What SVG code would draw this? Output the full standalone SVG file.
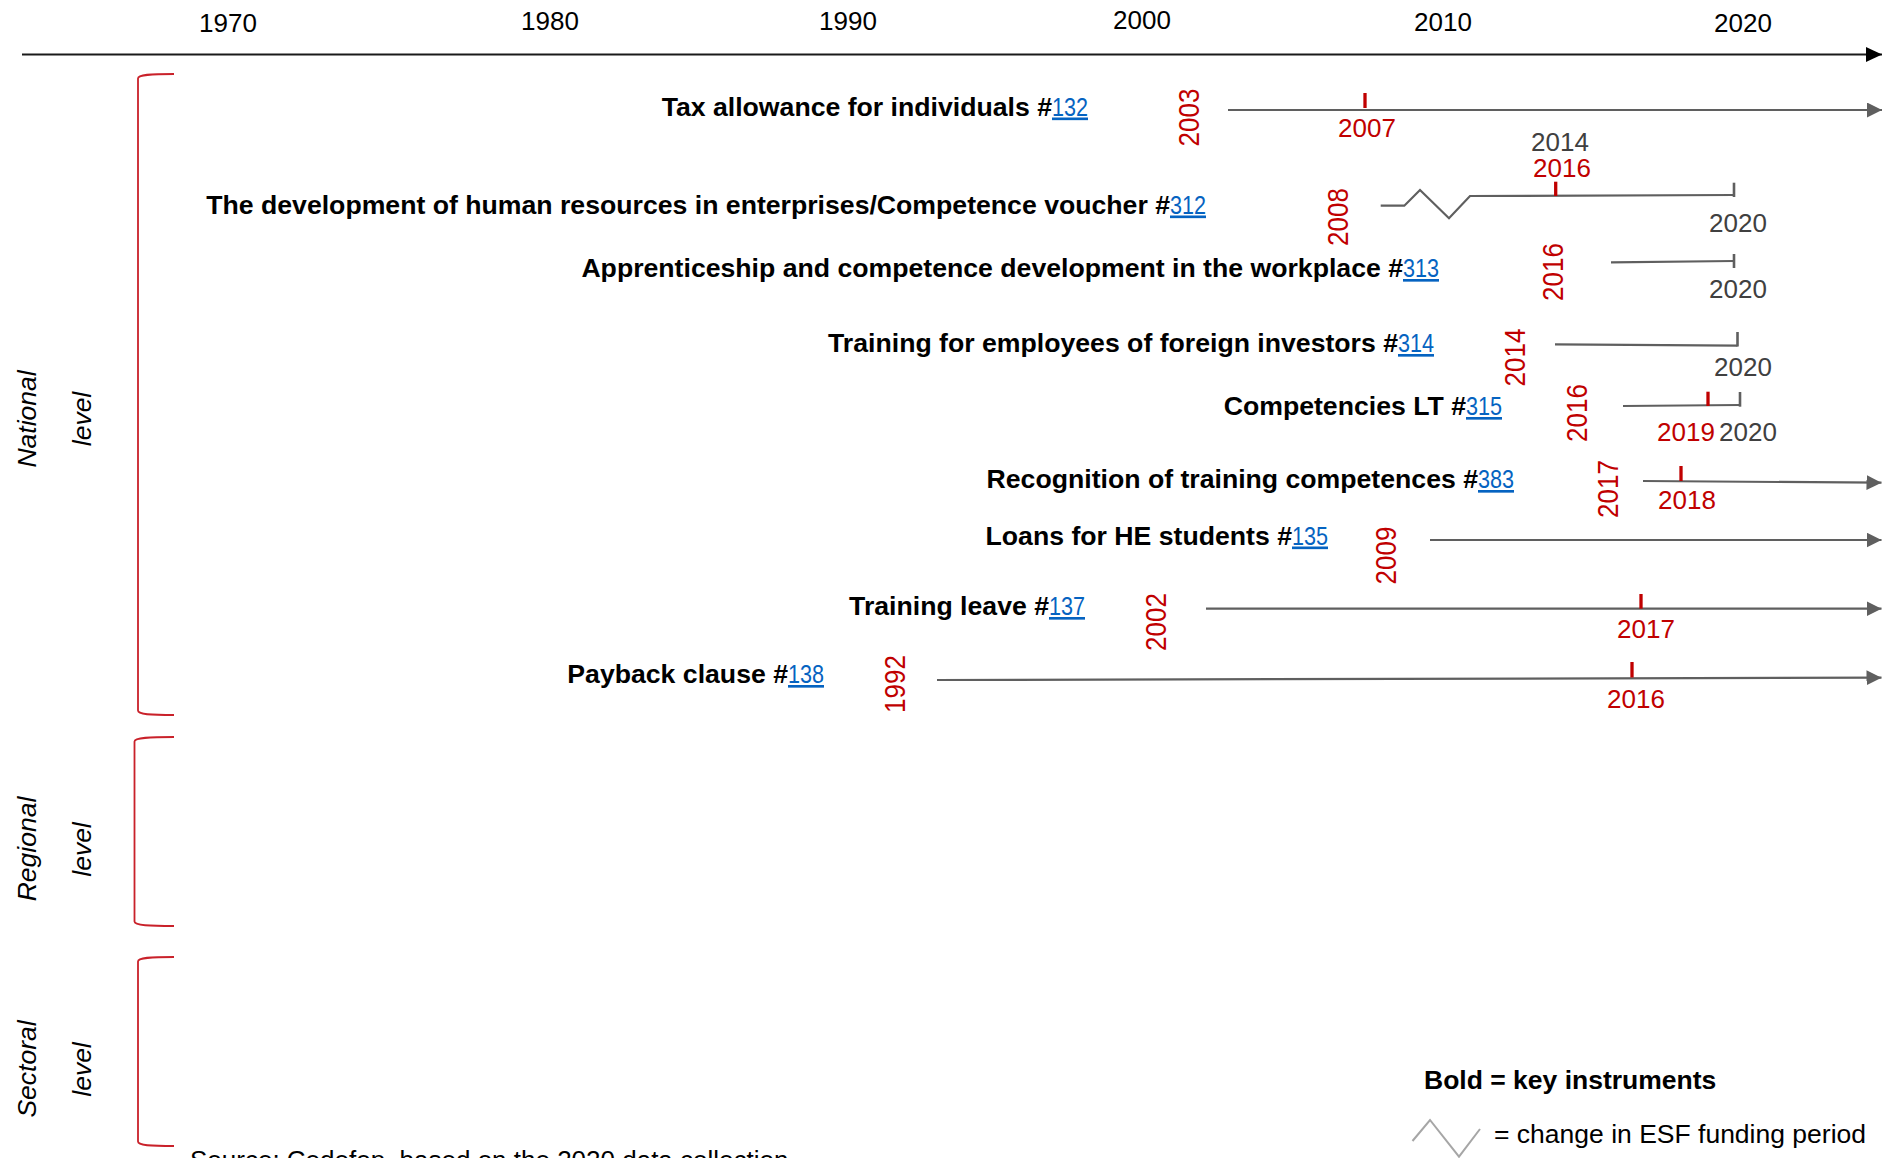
<svg xmlns="http://www.w3.org/2000/svg" width="1901" height="1158" viewBox="0 0 1901 1158">
<style>
text{font-family:"Liberation Sans",Arial,sans-serif}
.yr{font-size:26px;text-anchor:middle;fill:#000}
.red{font-size:26px;text-anchor:middle;fill:#c00000}
.gry{font-size:26px;text-anchor:middle;fill:#404040}
.lbl{font-size:26.65px;font-weight:bold;text-anchor:end;fill:#000}
.lnk{font-size:26.5px;fill:#0563c1;text-decoration:underline;font-family:"Liberation Sans Narrow","Liberation Sans",Arial,sans-serif}
.lvl{font-size:26.5px;font-style:italic;text-anchor:middle;fill:#000}
.tl{fill:none;stroke:#5f5f5f;stroke-width:2.2}
.tlarrow{fill:none;stroke:#5f5f5f;stroke-width:2.2;marker-end:url(#ga)}
.rt{stroke:#c00000;stroke-width:3.3}
.gt{stroke:#5f5f5f;stroke-width:2.6}
.br{fill:none;stroke:#c9212a;stroke-width:1.8}
</style>
<defs>
<marker id="ga" markerUnits="userSpaceOnUse" markerWidth="16" markerHeight="16" refX="15" refY="7.5" orient="auto">
<path d="M0,0 L15,7.5 L0,15 Z" fill="#5f5f5f"/>
</marker>
<marker id="ba" markerUnits="userSpaceOnUse" markerWidth="17" markerHeight="16" refX="16" refY="7.5" orient="auto">
<path d="M0,0 L16,7.5 L0,15 Z" fill="#000"/>
</marker>
</defs>
<rect width="1901" height="1158" fill="#fff"/>

<g id="time-axis">
<line x1="22" y1="54.5" x2="1882" y2="54.5" stroke="#1a1a1a" stroke-width="2.2" marker-end="url(#ba)"/>
<text class="yr" x="228" y="31.5">1970</text>
<text class="yr" x="550" y="30">1980</text>
<text class="yr" x="848" y="30">1990</text>
<text class="yr" x="1142" y="29">2000</text>
<text class="yr" x="1443" y="31">2010</text>
<text class="yr" x="1743" y="31.5">2020</text>
</g>

<g id="level-national">
<path class="br" d="M174,74 C150,74 138,74.5 138,78.5 L138,710.5 C138,714.5 150,715 174,715"/>
<text class="lvl" transform="translate(35.5,419) rotate(-90)">National</text>
<text class="lvl" transform="translate(90.5,419) rotate(-90)">level</text>
</g>
<g id="level-regional">
<path class="br" d="M174,737 C150,737 134.5,737.5 134.5,741.5 L134.5,921.5 C134.5,925.5 150,926 174,926"/>
<text class="lvl" transform="translate(35.5,849) rotate(-90)">Regional</text>
<text class="lvl" transform="translate(90.5,849.5) rotate(-90)">level</text>
</g>
<g id="level-sectoral">
<path class="br" d="M174,957 C150,957 138,957.5 138,961.5 L138,1141.5 C138,1145.5 150,1146 174,1146"/>
<text class="lvl" transform="translate(35.5,1069) rotate(-90)">Sectoral</text>
<text class="lvl" transform="translate(90.5,1069.5) rotate(-90)">level</text>
</g>

<g id="connectors">
<path class="tlarrow" d="M1228,110 L1882,110"/>
<line class="rt" x1="1365" y1="93" x2="1365" y2="108"/>

<polyline class="tl" points="1380.7,205.7 1404.3,205.7 1420,190 1449,218.3 1470,196 1734,195"/>
<line class="gt" x1="1734" y1="182.7" x2="1734" y2="197"/>
<line class="rt" x1="1555.7" y1="181.7" x2="1555.7" y2="196"/>

<line class="tl" x1="1611" y1="262.3" x2="1734" y2="261"/>
<line class="gt" x1="1734" y1="254" x2="1734" y2="268"/>

<line class="tl" x1="1555" y1="344.3" x2="1737.5" y2="345.7"/>
<line class="gt" x1="1737.5" y1="332" x2="1737.5" y2="346.5"/>

<line class="tl" x1="1623" y1="406" x2="1740" y2="405"/>
<line class="gt" x1="1740" y1="392" x2="1740" y2="406.7"/>
<line class="rt" x1="1708" y1="391.7" x2="1708" y2="406"/>

<path class="tlarrow" d="M1643,481 L1881.5,482.7"/>
<line class="rt" x1="1681" y1="466" x2="1681" y2="481"/>

<path class="tlarrow" d="M1430,540 L1881.5,540"/>

<path class="tlarrow" d="M1206,608.7 L1881.5,608.7"/>
<line class="rt" x1="1641" y1="594" x2="1641" y2="608.7"/>

<path class="tlarrow" d="M937,680 L1881.5,677.7"/>
<line class="rt" x1="1632" y1="662" x2="1632" y2="677.5"/>
</g>

<g id="instr-132">
<text class="lbl" x="1052" y="115.5">Tax allowance for individuals #</text>
<text class="lnk" x="1052" y="115.5" textLength="36" lengthAdjust="spacingAndGlyphs">132</text>
<text class="red" transform="translate(1199,117.5) rotate(-90) scale(1,1.17)">2003</text>
<text class="red" x="1367" y="137">2007</text>
</g>

<g id="instr-312">
<text class="lbl" x="1170" y="213.5">The development of human resources in enterprises/Competence voucher #</text>
<text class="lnk" x="1170" y="213.5" textLength="36" lengthAdjust="spacingAndGlyphs">312</text>
<text class="red" transform="translate(1348,217) rotate(-90) scale(1,1.17)">2008</text>
<text class="gry" x="1560" y="151">2014</text>
<text class="red" x="1562" y="177">2016</text>
<text class="gry" x="1738" y="232">2020</text>
</g>

<g id="instr-313">
<text class="lbl" x="1403" y="277">Apprenticeship and competence development in the workplace #</text>
<text class="lnk" x="1403" y="277" textLength="36" lengthAdjust="spacingAndGlyphs">313</text>
<text class="red" transform="translate(1562.5,272) rotate(-90) scale(1,1.17)">2016</text>
<text class="gry" x="1738" y="298">2020</text>
</g>

<g id="instr-314">
<text class="lbl" x="1398" y="352">Training for employees of foreign investors #</text>
<text class="lnk" x="1398" y="352" textLength="36" lengthAdjust="spacingAndGlyphs">314</text>
<text class="red" transform="translate(1525,357.5) rotate(-90) scale(1,1.17)">2014</text>
<text class="gry" x="1743" y="375.5">2020</text>
</g>

<g id="instr-315">
<text class="lbl" x="1466" y="415">Competencies LT #</text>
<text class="lnk" x="1466" y="415" textLength="36" lengthAdjust="spacingAndGlyphs">315</text>
<text class="red" transform="translate(1586.5,413) rotate(-90) scale(1,1.17)">2016</text>
<text class="red" x="1686" y="441">2019</text>
<text class="gry" x="1748" y="441">2020</text>
</g>

<g id="instr-383">
<text class="lbl" x="1478" y="488">Recognition of training competences #</text>
<text class="lnk" x="1478" y="488" textLength="36" lengthAdjust="spacingAndGlyphs">383</text>
<text class="red" transform="translate(1618,489) rotate(-90) scale(1,1.17)">2017</text>
<text class="red" x="1687" y="508.5">2018</text>
</g>

<g id="instr-135">
<text class="lbl" x="1292" y="544.5">Loans for HE students #</text>
<text class="lnk" x="1292" y="544.5" textLength="36" lengthAdjust="spacingAndGlyphs">135</text>
<text class="red" transform="translate(1395.5,555.5) rotate(-90) scale(1,1.17)">2009</text>
</g>

<g id="instr-137">
<text class="lbl" x="1049" y="615">Training leave #</text>
<text class="lnk" x="1049" y="615" textLength="36" lengthAdjust="spacingAndGlyphs">137</text>
<text class="red" transform="translate(1165.5,622) rotate(-90) scale(1,1.17)">2002</text>
<text class="red" x="1646" y="637.5">2017</text>
</g>

<g id="instr-138">
<text class="lbl" x="788" y="683">Payback clause #</text>
<text class="lnk" x="788" y="683" textLength="36" lengthAdjust="spacingAndGlyphs">138</text>
<text class="red" transform="translate(905,684) rotate(-90) scale(1,1.17)">1992</text>
<text class="red" x="1636" y="707.5">2016</text>
</g>

<g id="legend">
<text x="1424" y="1088.5" style="font-size:26.5px;font-weight:bold;fill:#000">Bold = key instruments</text>
<polyline points="1412.5,1141 1430,1120 1459,1156.7 1480,1129" fill="none" stroke="#a6a6a6" stroke-width="2"/>
<text x="1494" y="1143" style="font-size:26.5px;fill:#000">= change in ESF funding period</text>
</g>

<text x="190" y="1168.5" style="font-size:26px;fill:#000">Source: Cedefop, based on the 2020 data collection.</text>
</svg>
